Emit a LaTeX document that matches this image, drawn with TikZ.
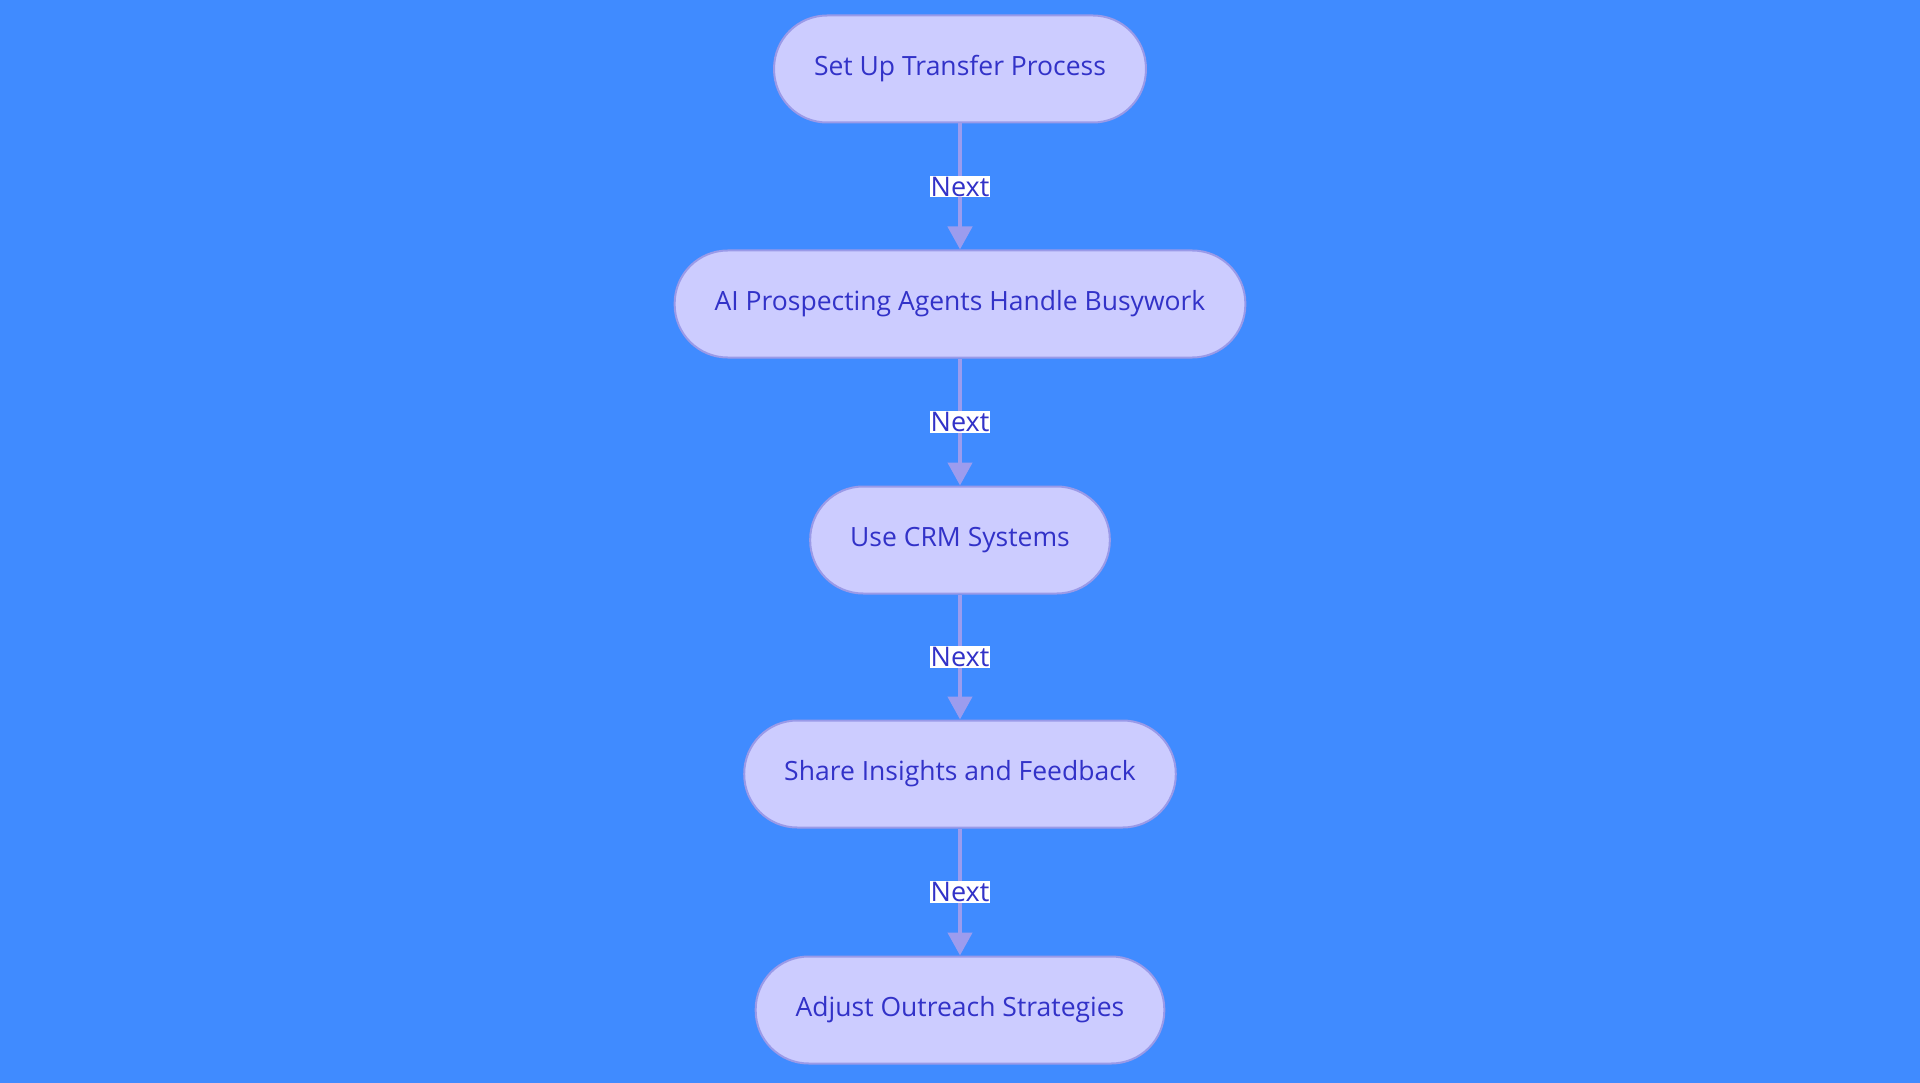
\documentclass[tikz,border=0pt]{standalone}
\usepackage{fontspec}
\setmainfont{Open Sans}
\usetikzlibrary{arrows.meta}
\definecolor{bgblue}{HTML}{408BFF}
\definecolor{stepfill}{HTML}{CCCCFF}
\definecolor{stepline}{HTML}{9A9AE8}
\definecolor{steptext}{HTML}{3232C8}
\definecolor{linkcol}{HTML}{9C9CEE}
\begin{document}
\begin{tikzpicture}[x=1pt,y=1pt,
    stepbox/.style={rectangle,rounded corners=53pt,fill=stepfill,draw=stepline,line width=2pt,
        minimum height=107pt,inner xsep=40pt,text=steptext,font=\fontsize{26.5}{32}\selectfont},
    link/.style={draw=linkcol,line width=4.5pt,-{Triangle[length=23pt,width=24pt,fill=linkcol]}},
    nextlbl/.style={fill=white,inner sep=1pt,text=steptext,font=\fontsize{27}{32}\selectfont}]
        \fill[bgblue] (0,0) rectangle (1920,-1083);
        \useasboundingbox (0,0) rectangle (1920,-1083);

        \node[stepbox] (setup)    at (960,-69)   {Set Up Transfer Process};
        \node[stepbox] (agents)   at (960,-304)  {AI Prospecting Agents Handle Busywork};
        \node[stepbox] (crm)      at (960,-540)  {Use CRM Systems};
        \node[stepbox] (share)    at (960,-774)  {Share Insights and Feedback};
        \node[stepbox] (adjust)   at (960,-1010) {Adjust Outreach Strategies};

        \path (setup)  edge[link] node[nextlbl] {Next} (agents);
        \path (agents) edge[link] node[nextlbl] {Next} (crm);
        \path (crm)    edge[link] node[nextlbl] {Next} (share);
        \path (share)  edge[link] node[nextlbl] {Next} (adjust);
    \end{tikzpicture}
\end{document}
